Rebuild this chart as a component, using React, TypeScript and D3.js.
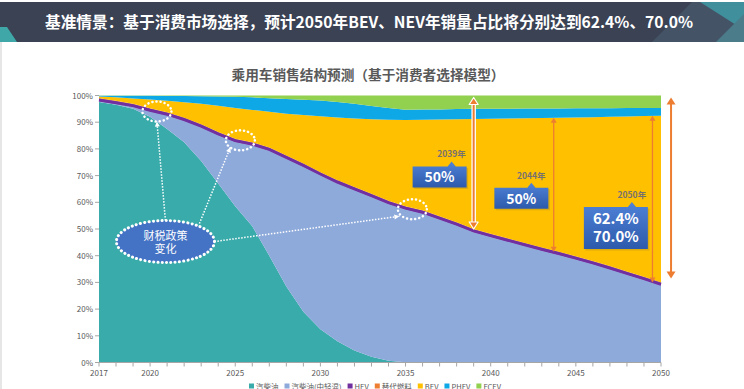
import { useEffect, useRef } from "react";
import * as d3 from "d3";

const FONT = '"Noto Sans CJK SC", "Noto Sans", sans-serif';

// categories
const years = d3.range(2017, 2051);
const seriesNames = ["汽柴油", "汽柴油(中轻混)", "HEV", "替代燃料", "BEV", "PHEV", "FCEV"];

// series values (% of sales), 2017..2050
const iceValues = [97.6, 96.5, 95.0, 92.0, 87.5, 82.5, 75.5, 67.0, 58.5, 51.0, 40.0, 28.5, 19.0, 12.5, 8.0, 4.5, 2.2, 0.7, 0.1, 0, 0, 0, 0, 0, 0, 0, 0, 0, 0, 0, 0, 0, 0, 0];
const mildHybridValues = [0.2, 0.3, 0.7, 2.0, 5.0, 8.0, 12.5, 18.1, 24.1, 30.3, 39.3, 47.8, 54.3, 57.6, 59.1, 60.0, 59.8, 58.7, 57.2, 55.8, 53.6, 51.3, 48.8, 47.0, 45.3, 43.6, 41.9, 40.3, 38.6, 36.8, 34.9, 32.9, 30.9, 28.8];
const hevValues = [1.0, 1.0, 1.0, 1.0, 1.0, 1.0, 1.0, 1.0, 1.0, 1.0, 1.0, 1.0, 1.0, 1.0, 1.0, 1.0, 1.0, 1.0, 1.0, 1.0, 1.0, 1.0, 1.0, 1.0, 1.0, 1.0, 1.0, 1.0, 1.0, 1.0, 1.0, 1.0, 1.0, 1.0];
const altFuelValues = [0.2, 0.2, 0.2, 0.2, 0.2, 0.2, 0.2, 0.2, 0.2, 0.2, 0.2, 0.2, 0.2, 0.2, 0.2, 0.2, 0.2, 0.2, 0.2, 0.2, 0.2, 0.2, 0.2, 0.2, 0.2, 0.2, 0.2, 0.2, 0.2, 0.2, 0.2, 0.2, 0.2, 0.2];
const bevValues = [0.6, 1.3, 2.0, 3.3, 4.3, 5.8, 7.7, 9.9, 11.5, 12.1, 13.4, 15.7, 18.2, 20.9, 23.5, 25.7, 27.9, 30.3, 32.3, 33.9, 36.2, 38.6, 41.2, 43.1, 44.9, 46.7, 48.5, 50.2, 52.0, 53.9, 55.9, 58.0, 60.2, 62.4];
const phevValues = [0.3, 0.6, 1.0, 1.4, 1.8, 2.3, 2.8, 3.4, 4.2, 4.7, 5.1, 5.5, 5.7, 5.9, 5.8, 5.5, 5.0, 4.4, 3.9, 3.9, 3.8, 3.8, 3.8, 3.7, 3.6, 3.6, 3.5, 3.4, 3.4, 3.3, 3.2, 3.2, 3.0, 2.9];
const fcevValues = [0.1, 0.1, 0.1, 0.1, 0.2, 0.2, 0.3, 0.4, 0.5, 0.7, 1.0, 1.3, 1.6, 1.9, 2.4, 3.1, 3.9, 4.7, 5.3, 5.2, 5.2, 5.1, 5.0, 5.0, 5.0, 4.9, 4.9, 4.9, 4.8, 4.8, 4.8, 4.7, 4.7, 4.7];

// tick labels
const yTicks = [0, 10, 20, 30, 40, 50, 60, 70, 80, 90, 100];
const xTickLabels = [2017, 2020, 2025, 2030, 2035, 2040, 2045, 2050];

// annotations
const policyCircles = [
  { year: 2020.4, value: 94.0 },
  { year: 2025.3, value: 83.2 },
  { year: 2035.4, value: 57.4 },
];
const policyBubble = { year: 2020.9, value: 45.3, lines: ["财税政策", "变化"] };
const callouts = [
  { label: "2039年", year: 2037.0, value: 69.5, w: 54, h: 21, notch: 12, lines: ["50%"] },
  { label: "2044年", year: 2041.8, value: 61.5, w: 54, h: 21, notch: 10, lines: ["50%"] },
  { label: "2050年", year: 2047.35, value: 50.4, w: 64, h: 42, notch: 16, lines: ["62.4%", "70.0%"] },
];

const colors = ["#3aabab", "#8eaadb", "#7030a0", "#ed7d31", "#ffc000", "#0fa8e6", "#92d050"];

export default function App() {
  const ref = useRef<SVGSVGElement | null>(null);

  useEffect(() => {
    if (!ref.current) return;
    const svg = d3.select(ref.current);
    svg.selectAll("*").remove();

    const x = d3.scaleLinear().domain([2017, 2050]).range([99, 661]);
    const y = d3.scaleLinear().domain([0, 100]).range([362.5, 95.5]);

    const rows = years.map((yr, i) => ({
      year: yr,
      [seriesNames[0]]: iceValues[i],
      [seriesNames[1]]: mildHybridValues[i],
      [seriesNames[2]]: hevValues[i],
      [seriesNames[3]]: altFuelValues[i],
      [seriesNames[4]]: bevValues[i],
      [seriesNames[5]]: phevValues[i],
      [seriesNames[6]]: fcevValues[i],
    }));
    const stacked = d3.stack<any>().keys(seriesNames)(rows);
    const idx = (yr: number) => years.indexOf(yr);
    const nevBottom = (yr: number) => stacked[3][idx(yr)][1];
    const bevTop = (yr: number) => stacked[4][idx(yr)][1];

    const defs = svg.append("defs");
    const grad = defs.append("linearGradient").attr("id", "boxFill").attr("x1", 0).attr("y1", 0).attr("x2", 0).attr("y2", 1);
    grad.append("stop").attr("offset", "0%").attr("stop-color", "#4f82d8");
    grad.append("stop").attr("offset", "100%").attr("stop-color", "#2d5aab");

    // header bar
    svg.append("rect").attr("x", 0).attr("y", 2).attr("width", 744).attr("height", 40).attr("fill", "#3a4254");
    svg.append("polygon").attr("points", "652,42 692,2 744,2 744,42").attr("fill", "#445366");
    svg.append("polygon").attr("points", "700,2 744,2 744,30").attr("fill", "#3f8f9c");
    svg.append("polygon").attr("points", "716,42 744,14 744,42").attr("fill", "#4a7c8a");
    svg.append("polygon").attr("points", "0,27 7,27 17,42 0,42").attr("fill", "#3fa7a8");
    svg.append("rect").attr("x", 0).attr("y", 42).attr("width", 2).attr("height", 347).attr("fill", "#e6e6e6");
    svg.append("text")
      .attr("x", 369).attr("y", 28)
      .attr("text-anchor", "middle")
      .attr("fill", "#ffffff")
      .attr("font-size", 16).attr("font-weight", "bold")
      .attr("textLength", 648).attr("lengthAdjust", "spacingAndGlyphs")
      .text("基准情景：基于消费市场选择，预计2050年BEV、NEV年销量占比将分别达到62.4%、70.0%");

    // chart title
    svg.append("text")
      .attr("x", 368).attr("y", 80)
      .attr("text-anchor", "middle")
      .attr("fill", "#595959")
      .attr("font-size", 13.5).attr("font-weight", "bold")
      .attr("textLength", 273).attr("lengthAdjust", "spacingAndGlyphs")
      .text("乘用车销售结构预测（基于消费者选择模型）");

    // areas
    const area = d3.area<any>()
      .x((d) => x(d.data.year))
      .y0((d) => y(d[0]))
      .y1((d) => y(d[1]));
    svg.append("g").selectAll("path").data(stacked).join("path")
      .attr("d", area as any)
      .attr("fill", (_, i) => colors[i]);

    // HEV band emphasised as a line
    const hevLine = d3.line<any>().x((d) => x(d.data.year)).y((d) => y((d[0] + d[1]) / 2));
    svg.append("path").attr("d", hevLine(stacked[2]) as string)
      .attr("fill", "none").attr("stroke", "#7030a0").attr("stroke-width", 3);

    // y axis
    const yg = svg.append("g");
    yTicks.forEach((t) => {
      yg.append("line").attr("x1", 95).attr("x2", 99).attr("y1", y(t)).attr("y2", y(t)).attr("stroke", "#a6a6a6");
      yg.append("text").attr("x", 93).attr("y", y(t) + 3).attr("text-anchor", "end")
        .attr("font-size", 8).attr("fill", "#595959").text(`${t}%`);
    });

    // x axis
    const xg = svg.append("g");
    xg.append("line").attr("x1", 99).attr("x2", 661).attr("y1", 362.5).attr("y2", 362.5).attr("stroke", "#a6a6a6");
    years.forEach((yr) => {
      xg.append("line").attr("x1", x(yr)).attr("x2", x(yr)).attr("y1", 362.5).attr("y2", 366.5).attr("stroke", "#a6a6a6");
    });
    xTickLabels.forEach((yr) => {
      xg.append("text").attr("x", x(yr)).attr("y", 375.5).attr("text-anchor", "middle")
        .attr("font-size", 8).attr("fill", "#595959").text(yr);
    });

    // legend
    const lg = svg.append("g").attr("font-size", 7.5).attr("fill", "#595959");
    let lx = 249;
    seriesNames.forEach((name, i) => {
      lg.append("rect").attr("x", lx).attr("y", 383.5).attr("width", 5).attr("height", 5).attr("fill", colors[i]);
      const t = lg.append("text").attr("x", lx + 7).attr("y", 389.5).text(name);
      const w = (t.node() as SVGTextElement).getComputedTextLength();
      lx += 7 + w + 6;
    });

    // arrows
    const drawArrow = (ax: number, yTop: number, yBot: number, bold: boolean, outline: boolean) => {
      const g = svg.append("g");
      const hw = bold ? 4.5 : 3;
      const hl = bold ? 7 : 5;
      if (outline) {
        g.append("line").attr("x1", ax).attr("x2", ax).attr("y1", yTop + hl).attr("y2", yBot - hl)
          .attr("stroke", "#ffffff").attr("stroke-width", 4.5);
      }
      g.append("line").attr("x1", ax).attr("x2", ax).attr("y1", yTop + hl - 1).attr("y2", yBot - hl + 1)
        .attr("stroke", "#ed7d31").attr("stroke-width", bold ? 2 : 1.3);
      const heads = [
        `${ax},${yTop} ${ax - hw},${yTop + hl} ${ax + hw},${yTop + hl}`,
        `${ax},${yBot} ${ax - hw},${yBot - hl} ${ax + hw},${yBot - hl}`,
      ];
      heads.forEach((p) => {
        g.append("polygon").attr("points", p).attr("fill", "#ed7d31")
          .attr("stroke", outline ? "#ffffff" : "none").attr("stroke-width", 1.2).attr("stroke-linejoin", "round");
      });
    };
    drawArrow(x(2039), y(100) + 2, y(nevBottom(2039)), true, true);
    drawArrow(x(2043.7), y(bevTop(2044)), y(nevBottom(2044)), false, false);
    drawArrow(x(2049.5), y(bevTop(2050)), y(nevBottom(2050)), false, false);
    drawArrow(x(2050.59), y(100) + 2, y(nevBottom(2050)) - 4, true, false);

    // callouts
    callouts.forEach((c) => {
      const cx = x(c.year);
      const cy = y(c.value);
      const x0 = cx - c.w / 2;
      const y0 = cy - c.h / 2;
      const nx = cx + c.notch;
      const g = svg.append("g");
      const shape = `M${x0},${y0} L${nx - 4},${y0} L${nx},${y0 - 5} L${nx + 4},${y0} L${x0 + c.w},${y0} L${x0 + c.w},${y0 + c.h} L${x0},${y0 + c.h} Z`;
      g.append("path").attr("d", shape).attr("fill", "#7a6a3a").attr("opacity", 0.25).attr("transform", "translate(1.5,1.5)");
      g.append("path").attr("d", shape).attr("fill", "url(#boxFill)");
      g.append("text").attr("x", nx).attr("y", y0 - 9).attr("text-anchor", "middle")
        .attr("font-size", 8.5).attr("font-weight", "bold").attr("fill", "#767171").text(c.label);
      const lh = 18;
      c.lines.forEach((ln, k) => {
        g.append("text")
          .attr("x", cx).attr("y", cy + 5.5 - ((c.lines.length - 1) * lh) / 2 + k * lh)
          .attr("text-anchor", "middle").attr("font-size", c.lines.length > 1 ? 15 : 14)
          .attr("font-weight", "bold").attr("fill", "#ffffff").text(ln);
      });
    });

    // policy annotation
    const bx = x(policyBubble.year);
    const by = y(policyBubble.value);
    const connectors = [
      { from: [bx, by - 21], to: policyCircles[0], off: [0, 10] },
      { from: [bx + 34, by - 18], to: policyCircles[1], off: [-10, 7] },
      { from: [bx + 49, by], to: policyCircles[2], off: [-13, 7] },
    ];
    connectors.forEach((c) => {
      const tx = x(c.to.year) + c.off[0];
      const ty = y(c.to.value) + c.off[1];
      svg.append("line").attr("x1", c.from[0]).attr("y1", c.from[1]).attr("x2", tx).attr("y2", ty)
        .attr("stroke", "#ffffff").attr("stroke-width", 1.5).attr("stroke-dasharray", "1.5 1.5");
      const ang = Math.atan2(ty - c.from[1], tx - c.from[0]);
      const hx = tx - Math.cos(ang) * 5;
      const hy = ty - Math.sin(ang) * 5;
      const px = -Math.sin(ang) * 2.5;
      const py = Math.cos(ang) * 2.5;
      svg.append("polygon").attr("points", `${tx},${ty} ${hx + px},${hy + py} ${hx - px},${hy - py}`).attr("fill", "#ffffff");
    });
    policyCircles.forEach((p) => {
      svg.append("ellipse").attr("cx", x(p.year)).attr("cy", y(p.value)).attr("rx", 14.5).attr("ry", 10)
        .attr("fill", "none").attr("stroke", "#ffffff").attr("stroke-width", 2.5)
        .attr("stroke-dasharray", "0.1 4").attr("stroke-linecap", "round");
    });
    svg.append("ellipse").attr("cx", bx).attr("cy", by).attr("rx", 49).attr("ry", 21)
      .attr("fill", "#4472c4").attr("stroke", "#ffffff").attr("stroke-width", 3)
      .attr("stroke-dasharray", "0.1 4.2").attr("stroke-linecap", "round");
    policyBubble.lines.forEach((ln, k) => {
      svg.append("text").attr("x", bx).attr("y", by - 2 + k * 13).attr("text-anchor", "middle")
        .attr("font-size", 11).attr("fill", "#ffffff").text(ln);
    });
  }, []);

  return (
    <svg
      ref={ref}
      width={744}
      height={389}
      style={{ position: "absolute", left: 0, top: 0, fontFamily: FONT, background: "#ffffff" }}
    />
  );
}
